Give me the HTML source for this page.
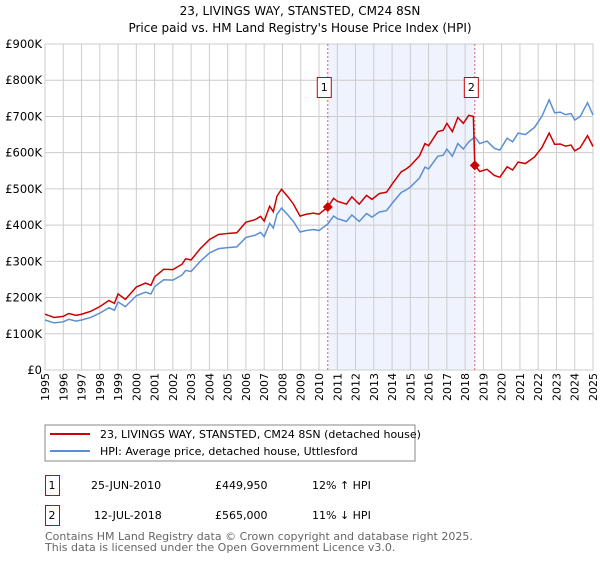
<!DOCTYPE html>
<html><head><meta charset="utf-8"><style>
body{margin:0;background:#fff;width:600px;height:560px;overflow:hidden;font-family:"DejaVu Sans","Liberation Sans",sans-serif;}
svg text{font-family:"DejaVu Sans","Liberation Sans",sans-serif;}
</style></head><body>
<svg id="c" width="600" height="560">
<text x="300" y="15" text-anchor="middle" font-size="12" fill="#000">23, LIVINGS WAY, STANSTED, CM24 8SN</text>
<text x="300" y="32" text-anchor="middle" font-size="12" fill="#000">Price paid vs. HM Land Registry's House Price Index (HPI)</text>
<g id="plot"></g>
<rect x="45" y="425" width="370" height="36" fill="#fff" stroke="#888"/>
<line x1="50" y1="434" x2="90" y2="434" stroke="#cc0000" stroke-width="2"/>
<text x="100" y="438" font-size="11">23, LIVINGS WAY, STANSTED, CM24 8SN (detached house)</text>
<line x1="50" y1="451" x2="90" y2="451" stroke="#5b8fd4" stroke-width="2"/>
<text x="100" y="455" font-size="11">HPI: Average price, detached house, Uttlesford</text>
<g>
<rect x="45.5" y="475.5" width="14" height="20" fill="#fff" stroke="#cc0000"/>
<text x="52" y="489" font-size="11" text-anchor="middle">1</text>
<text x="91" y="489" font-size="11">25-JUN-2010</text>
<text x="215" y="489" font-size="11">£449,950</text>
<text x="312" y="489" font-size="11">12% ↑ HPI</text>
</g>
<g>
<rect x="45.5" y="505.5" width="14" height="20" fill="#fff" stroke="#cc0000"/>
<text x="52" y="519" font-size="11" text-anchor="middle">2</text>
<text x="94" y="519" font-size="11">12-JUL-2018</text>
<text x="215" y="519" font-size="11">£565,000</text>
<text x="312" y="519" font-size="11">11% ↓ HPI</text>
</g>
<text x="45" y="540" font-size="11" fill="#666">Contains HM Land Registry data © Crown copyright and database right 2025.</text>
<text x="45" y="551" font-size="11" fill="#666">This data is licensed under the Open Government Licence v3.0.</text>
</svg>
<script>
const years=[1995.0,1995.5,1996.0,1996.3,1996.7,1997.0,1997.5,1998.0,1998.5,1998.8,1999.0,1999.4,2000.0,2000.5,2000.8,2001.0,2001.5,2002.0,2002.5,2002.7,2003.0,2003.5,2004.0,2004.5,2005.0,2005.5,2006.0,2006.5,2006.8,2007.0,2007.3,2007.5,2007.7,2007.95,2008.3,2008.6,2008.96,2009.3,2009.7,2010.0,2010.48,2010.8,2011.0,2011.5,2011.8,2012.2,2012.6,2012.9,2013.3,2013.7,2014.0,2014.5,2014.8,2015.0,2015.5,2015.8,2016.0,2016.5,2016.8,2017.0,2017.3,2017.6,2017.9,2018.2,2018.45,2018.53,2018.8,2019.2,2019.6,2019.9,2020.3,2020.6,2020.9,2021.3,2021.8,2022.2,2022.6,2022.9,2023.2,2023.5,2023.8,2024.0,2024.3,2024.7,2025.0];
const hpiValues=[138,130,133,140,135,138,145,157,172,165,188,175,205,215,210,230,249,248,262,275,272,300,323,335,338,340,366,372,380,368,405,392,430,447,428,410,381,385,388,385,403,425,418,410,428,410,432,422,436,440,460,490,498,505,530,560,555,590,593,610,590,625,610,630,640,644,625,632,612,607,640,630,654,650,670,700,746,710,712,705,708,690,700,738,704];
const priceValues=[154,145,148,156,151,154,162,175,192,184,210,195,229,240,234,257,278,277,292,307,304,335,360,374,377,379,408,415,424,411,452,437,480,499,478,458,425,430,433,430,450,474,466,458,478,458,482,471,487,491,513,547,556,564,591,625,619,658,662,681,658,697,681,703,700,565,548,554,537,532,561,552,574,570,588,614,654,623,624,618,621,605,614,647,617];
const yTicks=[0,100,200,300,400,500,600,700,800,900];
const yTickLabels=["£0","£100K","£200K","£300K","£400K","£500K","£600K","£700K","£800K","£900K"];
const xTicks=[1995,1996,1997,1998,1999,2000,2001,2002,2003,2004,2005,2006,2007,2008,2009,2010,2011,2012,2013,2014,2015,2016,2017,2018,2019,2020,2021,2022,2023,2024,2025];
const saleYears=[2010.48,2018.53];
const salePrices=[449.95,565];
const saleLabels=["1","2"];
const L=45,R=593,T=44,B=370;
const xs=y=>L+(y-1995)/30*(R-L);
const ys=v=>B-v/900*(B-T);
const NS="http://www.w3.org/2000/svg";
const g=document.getElementById('plot');
function mk(t,a){const e=document.createElementNS(NS,t);for(const k in a)e.setAttribute(k,a[k]);g.appendChild(e);return e;}
const shade=mk('rect',{x:xs(saleYears[0]),y:T,width:xs(saleYears[1])-xs(saleYears[0]),height:B-T,fill:'#eef3fd'});


yTicks.forEach((v,i)=>{
 const l=mk('line',{x1:L,x2:R,y1:ys(v),y2:ys(v),stroke:'#cccccc'});
 
 
 const t=mk('text',{x:L-3,y:ys(v)+4,'text-anchor':'end','font-size':'11.5'});
 t.textContent=yTickLabels[i];
 
 
});
xTicks.forEach(yr=>{
 const l=mk('line',{x1:xs(yr),x2:xs(yr),y1:T,y2:B,stroke:'#cccccc'});
 
 
 const px=xs(yr)+4,py=B+3;
 const t=mk('text',{x:px,y:py,'text-anchor':'end','font-size':'11',transform:`rotate(-90 ${px} ${py})`});
 t.textContent=yr;
 
 
});
const fr=mk('rect',{x:L,y:T,width:R-L,height:B-T,fill:'none',stroke:'#cccccc'});


saleYears.forEach((sy,i)=>{
 const l=mk('line',{x1:xs(sy),x2:xs(sy),y1:T,y2:B,stroke:'#e06060','stroke-dasharray':'2,2'});
 
 
});
const hp=mk('polyline',{points:years.map((y,i)=>xs(y)+','+ys(hpiValues[i])).join(' '),fill:'none',stroke:'#5b8fd4','stroke-width':1.5});


const pp=mk('polyline',{points:years.map((y,i)=>xs(y)+','+ys(priceValues[i])).join(' '),fill:'none',stroke:'#cc0000','stroke-width':1.5});


saleYears.forEach((sy,i)=>{
 const cx=xs(sy),cy=ys(salePrices[i]);
 const d=mk('polygon',{points:`${cx},${cy-5} ${cx+5},${cy} ${cx},${cy+5} ${cx-5},${cy}`,fill:'#cc0000'});
 
 
 const bx=mk('rect',{x:cx-10.5,y:77.5,width:14,height:20,fill:'#fff',stroke:'#cc0000'});
 
 
 const t=mk('text',{x:cx-3.5,y:91,'text-anchor':'middle','font-size':'11'});
 t.textContent=saleLabels[i];
 
 
});
</script>
</body></html>
